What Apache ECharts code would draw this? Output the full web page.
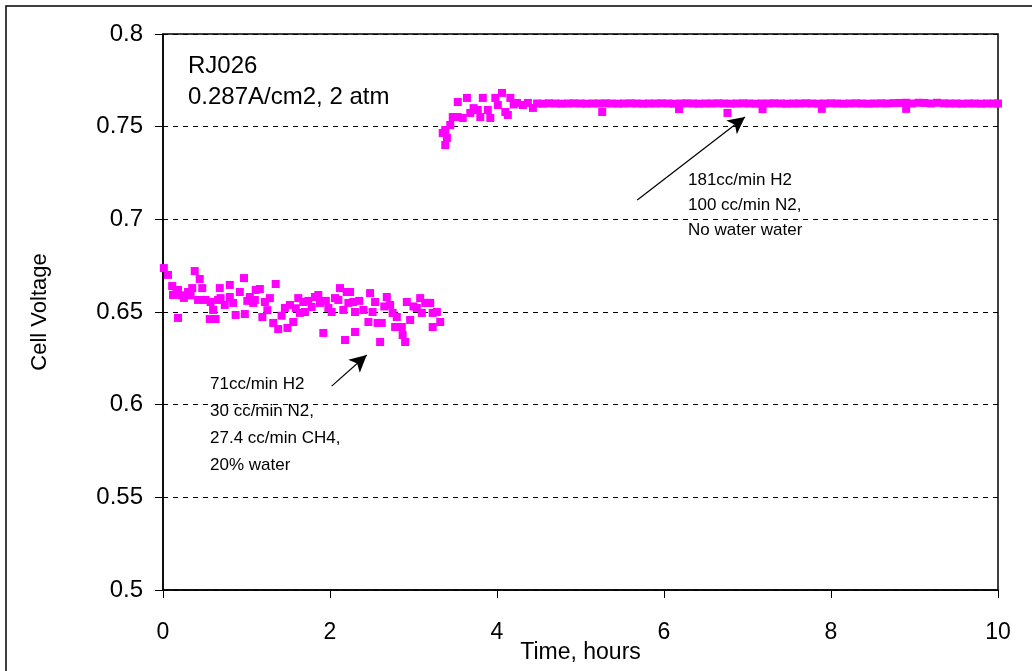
<!DOCTYPE html>
<html>
<head>
<meta charset="utf-8">
<script src="https://cdn.jsdelivr.net/npm/echarts@6/dist/echarts.min.js"></script>
<style>html,body{margin:0;padding:0;background:#fff}#c{width:1032px;height:671px}</style>
</head>
<body>
<div id="c"></div>
<script>
// Phase 1: 71cc/min H2, 30 cc/min N2, 27.4 cc/min CH4, 20% water  [time h, voltage V]
var phase1 = [
[0.01,0.6737],[0.06,0.6700],[0.11,0.6640],[0.12,0.6592],[0.16,0.6600],[0.18,0.6619],[0.18,0.6468],[0.22,0.6590],
[0.25,0.6576],[0.30,0.6608],[0.33,0.6590],[0.35,0.6629],[0.38,0.6721],[0.42,0.6565],[0.44,0.6678],[0.47,0.6629],
[0.51,0.6565],[0.56,0.6462],[0.57,0.6554],[0.60,0.6511],[0.63,0.6462],[0.66,0.6565],[0.68,0.6629],[0.69,0.6575],
[0.74,0.6538],[0.80,0.6646],[0.80,0.6581],[0.84,0.6549],[0.87,0.6484],[0.92,0.6608],[0.97,0.6683],[0.98,0.6489],
[1.01,0.6560],[1.04,0.6581],[1.08,0.6549],[1.10,0.6565],[1.11,0.6619],[1.16,0.6624],[1.19,0.6473],[1.22,0.6554],
[1.25,0.6510],[1.28,0.6575],[1.32,0.6441],[1.35,0.6651],[1.38,0.6408],[1.42,0.6480],[1.46,0.6522],[1.49,0.6414],
[1.52,0.6538],[1.56,0.6446],[1.59,0.6520],[1.62,0.6575],[1.64,0.6495],[1.68,0.6554],[1.70,0.6500],[1.74,0.6560],
[1.78,0.6527],[1.82,0.6581],[1.86,0.6592],[1.88,0.6549],[1.92,0.6387],[1.95,0.6560],[1.98,0.6522],[2.02,0.6500],
[2.06,0.6575],[2.10,0.6565],[2.12,0.6629],[2.16,0.6511],[2.18,0.6349],[2.20,0.6608],[2.22,0.6549],[2.24,0.6608],
[2.28,0.6554],[2.30,0.6500],[2.30,0.6392],[2.35,0.6560],[2.40,0.6511],[2.46,0.6446],[2.48,0.6602],[2.51,0.6500],
[2.54,0.6554],[2.57,0.6441],[2.60,0.6338],[2.62,0.6441],[2.65,0.6530],[2.68,0.6581],[2.72,0.6538],[2.75,0.6495],
[2.78,0.6419],[2.80,0.6473],[2.86,0.6419],[2.87,0.6376],[2.90,0.6338],[2.92,0.6554],[2.96,0.6457],[3.00,0.6530],
[3.04,0.6522],[3.08,0.6575],[3.10,0.6495],[3.14,0.6549],[3.17,0.6549],[3.20,0.6549],[3.23,0.6495],[3.23,0.6419],
[3.28,0.6500],[3.32,0.6446]
];
// Phase 2: 181cc/min H2, 100 cc/min N2, no water
var phase2 = [
[3.35,0.7466],[3.38,0.7401],[3.40,0.7439],[3.38,0.7482],[3.44,0.7509],[3.47,0.7552],[3.53,0.7552],[3.53,0.7633],
[3.59,0.7547],[3.64,0.7655],[3.68,0.7574],[3.72,0.7600],[3.77,0.7590],[3.80,0.7552],[3.83,0.7655],[3.89,0.7590],
[3.92,0.7547],[3.98,0.7655],[4.01,0.7617],[4.06,0.7682],[4.10,0.7579],[4.13,0.7563],[4.16,0.7655],[4.20,0.7620],
[4.24,0.7628],[4.31,0.7617],[4.37,0.7628],[4.43,0.7601],
[4.48,0.7625],[4.55,0.7624],[4.62,0.7626],[4.70,0.7625],[4.77,0.7624],[4.85,0.7625],[4.92,0.7626],[5.00,0.7625],
[5.07,0.7624],[5.15,0.7625],[5.22,0.7625],[5.26,0.7579],[5.30,0.7626],[5.37,0.7625],[5.45,0.7624],[5.52,0.7625],
[5.60,0.7626],[5.67,0.7625],[5.75,0.7624],[5.82,0.7625],[5.90,0.7625],[5.97,0.7626],[6.05,0.7625],[6.12,0.7624],
[6.18,0.7595],[6.20,0.7625],[6.27,0.7626],[6.35,0.7625],[6.42,0.7624],[6.50,0.7625],[6.57,0.7625],[6.65,0.7626],
[6.72,0.7625],[6.76,0.7574],[6.80,0.7624],[6.87,0.7625],[6.95,0.7626],[7.02,0.7625],[7.10,0.7624],[7.17,0.7625],
[7.18,0.7595],[7.25,0.7625],[7.32,0.7626],[7.40,0.7625],[7.47,0.7624],[7.55,0.7625],[7.62,0.7625],[7.70,0.7626],
[7.77,0.7625],[7.85,0.7624],[7.89,0.7596],[7.92,0.7625],[8.00,0.7626],[8.07,0.7625],[8.15,0.7624],[8.22,0.7625],
[8.30,0.7626],[8.37,0.7625],[8.45,0.7624],[8.52,0.7625],[8.60,0.7626],[8.67,0.7625],[8.75,0.7627],[8.82,0.7628],
[8.90,0.7596],[8.90,0.7629],[8.97,0.7625],[9.05,0.7629],[9.12,0.7628],[9.20,0.7625],[9.27,0.7629],[9.35,0.7626],
[9.42,0.7625],[9.50,0.7625],[9.57,0.7624],[9.65,0.7625],[9.72,0.7625],[9.80,0.7624],[9.87,0.7625],[9.95,0.7625],
[10.0,0.7625]
];
var yTicks = ['0.5','0.55','0.6','0.65','0.7','0.75','0.8'];
var xTicks = ['0','2','4','6','8','10'];
var titleLines = ['RJ026', '0.287A/cm2, 2 atm'];
var note1 = ['71cc/min H2', '30 cc/min N2,', '27.4 cc/min CH4,', '20% water'];
var note2 = ['181cc/min H2', '100 cc/min N2,', 'No water water'];
var arrow1 = [[2.02, 0.6100], [2.44, 0.6268]];
var arrow2 = [[5.68, 0.7104], [6.97, 0.7552]];

var chart = echarts.init(document.getElementById('c'), null, {renderer: 'canvas'});
var F = 'Liberation Sans, Arial, sans-serif';
var gfx = [
  {type: 'rect', shape: {x: 6, y: 6, width: 1100, height: 800}, style: {fill: 'none', stroke: '#000', lineWidth: 1.5}, z: 0}
];
titleLines.forEach(function (t, i) {
  gfx.push({type: 'text', left: 188, top: 54 + i * 31, style: {text: t, font: '24px ' + F, fill: '#000'}});
});
note1.forEach(function (t, i) {
  gfx.push({type: 'text', left: 210, top: 376 + i * 27, style: {text: t, font: '17px ' + F, fill: '#000'}});
});
note2.forEach(function (t, i) {
  gfx.push({type: 'text', left: 688, top: 172 + i * 25, style: {text: t, font: '17px ' + F, fill: '#000'}});
});

chart.setOption({
  animation: false,
  backgroundColor: '#fff',
  grid: {left: 163, top: 34, width: 835, height: 556, outerBoundsMode: 'none', containLabel: false,
         show: true, borderColor: '#000', borderWidth: 1.5, backgroundColor: 'transparent'},
  xAxis: {
    type: 'value', min: 0, max: 10, interval: 2,
    axisLine: {show: true, onZero: false, lineStyle: {color: '#000', width: 1.5}},
    axisTick: {show: true, inside: false, length: 8, lineStyle: {color: '#000'}},
    axisLabel: {margin: 31, fontSize: 23, fontFamily: F, color: '#000', formatter: function (v) { return xTicks[Math.round(v / 2)]; }},
    splitLine: {show: false},
    name: 'Time, hours', nameLocation: 'middle', nameGap: 51, nameMoveOverlap: false,
    nameTextStyle: {fontSize: 23, fontFamily: F, color: '#000'}
  },
  yAxis: {
    type: 'value', min: 0.5, max: 0.8, interval: 0.05,
    axisLine: {show: true, onZero: false, lineStyle: {color: '#000', width: 1.5}},
    axisTick: {show: true, inside: false, length: 8, lineStyle: {color: '#000'}},
    axisLabel: {margin: 20, fontSize: 24, fontFamily: F, color: '#000', formatter: function (v) { return yTicks[Math.round((v - 0.5) / 0.05)]; }},
    splitLine: {show: true, lineStyle: {color: '#000', width: 1, type: [5, 5]}},
    name: 'Cell Voltage', nameLocation: 'middle', nameGap: 112, nameRotate: 90, nameMoveOverlap: false,
    nameTextStyle: {fontSize: 22, fontFamily: F, color: '#000'}
  },
  series: [
    {type: 'scatter', data: phase1, symbol: 'rect', symbolSize: 8, itemStyle: {color: '#FF00FF', opacity: 1}, z: 3},
    {type: 'scatter', data: phase2, symbol: 'rect', symbolSize: 8, itemStyle: {color: '#FF00FF', opacity: 1}, z: 3,
     markLine: {silent: true, symbol: ['none', 'arrow'], symbolSize: [13, 17], label: {show: false},
       lineStyle: {color: '#000', width: 1.2, type: 'solid'},
       data: [
         [{coord: arrow1[0]}, {coord: arrow1[1]}],
         [{coord: arrow2[0]}, {coord: arrow2[1]}]
       ]}}
  ],
  graphic: gfx
});
</script>
</body>
</html>
